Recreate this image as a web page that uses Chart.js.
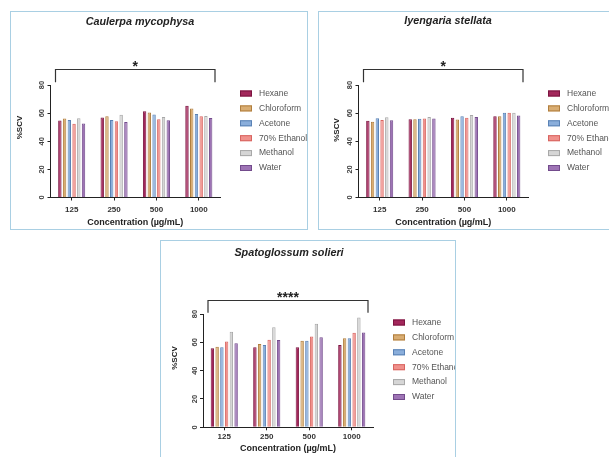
<!DOCTYPE html>
<html>
<head>
<meta charset="utf-8">
<script src="https://cdn.jsdelivr.net/npm/chart.js@4.4.1/dist/chart.umd.min.js"></script>
<style>
  html, body { margin: 0; padding: 0; background: #fff; }
  body { width: 609px; height: 457px; position: relative; overflow: hidden; }
  canvas, .frame { position: absolute; }
  .frame { border: 1.5px solid #a9cfe3; box-sizing: border-box; pointer-events: none; }
</style>
</head>
<body>
<canvas id="c1" width="298" height="219" style="left:10px;top:11px"></canvas>
<div class="frame" style="left:10px;top:11px;width:298px;height:219px"></div>
<canvas id="c2" width="298" height="219" style="left:318px;top:11px"></canvas>
<div class="frame" style="left:318px;top:11px;width:298px;height:219px"></div>
<canvas id="c3" width="296" height="222" style="left:160px;top:240px"></canvas>
<div class="frame" style="left:160px;top:240px;width:296px;height:222px"></div>
<script>
// data (%SCV)
const concentrations = ['125', '250', '500', '1000'];
const solvents = ['Hexane', 'Chloroform', 'Acetone', '70% Ethanol', 'Methanol', 'Water'];
const yTicks = [0, 20, 40, 60, 80];

// rows follow the solvents order, columns the concentrations
const caulerpaValues = [
    [54.8, 56.9, 61.4, 65.2],
    [56.1, 57.8, 60.5, 63.3],
    [55.2, 55.2, 59.0, 59.3],
    [52.5, 54.2, 55.7, 57.8],
    [56.4, 58.8, 57.2, 58.0],
    [52.6, 53.7, 55.0, 56.6]
];
const iyengariaValues = [
    [54.5, 55.7, 56.8, 57.8],
    [53.8, 55.7, 55.5, 57.8],
    [56.4, 56.0, 57.8, 60.2],
    [55.2, 56.1, 56.7, 60.3],
    [57.1, 57.3, 58.6, 60.3],
    [55.0, 56.1, 57.3, 58.4]
];
const spatoglossumValues = [
    [55.8, 56.5, 56.5, 58.1],
    [56.9, 58.8, 61.2, 62.8],
    [56.5, 58.1, 61.2, 62.8],
    [60.5, 61.9, 64.2, 66.8],
    [67.5, 70.6, 73.2, 77.6],
    [59.3, 61.6, 63.5, 67.0]
];

const fillColors = ['#a3275b', '#d9ad72', '#8aaedb', '#f0918c', '#d6d6d6', '#9e74b5'];
const edgeColors = ['#7b1440', '#b07e3e', '#5a82b5', '#d86460', '#a8a8a8', '#734b8c'];

const FONT = '"Liberation Sans", Arial, sans-serif';

// title, y title, significance bracket and legend
const panelDecor = {
    id: 'panelDecor',
    afterDraw(chart, args, opts) {
        const {ctx, chartArea} = chart;
        const x = chart.scales.x, y = chart.scales.y;
        ctx.save();
        ctx.fillStyle = '#222';
        ctx.textAlign = 'center';
        ctx.textBaseline = 'middle';
        ctx.font = 'italic bold 10.8px ' + FONT;
        ctx.fillText(opts.title, opts.titleX, opts.titleY);

        ctx.save();
        ctx.translate(opts.yTitleX, opts.yTitleY);
        ctx.rotate(-Math.PI / 2);
        ctx.font = 'bold 8px ' + FONT;
        ctx.fillText('%SCV', 0, 0);
        ctx.restore();

        const by = Math.round(y.getPixelForValue(opts.bracket[0])) + 0.5;
        const ey = y.getPixelForValue(opts.bracket[1]);
        const bl = x.left + 5, br = x.right - 5;
        ctx.strokeStyle = '#333';
        ctx.lineWidth = 1.2;
        ctx.beginPath();
        ctx.moveTo(bl, ey);
        ctx.lineTo(bl, by);
        ctx.lineTo(br, by);
        ctx.lineTo(br, ey);
        ctx.stroke();
        ctx.font = 'bold 14px ' + FONT;
        ctx.textBaseline = 'alphabetic';
        ctx.fillText(opts.stars, (bl + br) / 2, by + 1);

        ctx.textAlign = 'left';
        ctx.textBaseline = 'middle';
        ctx.font = '8.5px ' + FONT;
        chart.data.datasets.forEach((ds, i) => {
            const lx = chartArea.right + 20;
            const ly = chartArea.top + 8.5 + i * 14.9;
            ctx.fillStyle = ds.backgroundColor;
            ctx.fillRect(lx, ly - 3, 12, 6);
            ctx.strokeStyle = ds.borderColor;
            ctx.lineWidth = 1;
            ctx.strokeRect(lx + 0.5, ly - 2.5, 11, 5);
            ctx.fillStyle = '#555';
            ctx.fillText(ds.label, lx + 19, ly);
        });
        ctx.restore();
    }
};

function makePanel(canvasId, values, decor, g) {
    const ctx = document.getElementById(canvasId).getContext('2d');
    return new Chart(ctx, {
        type: 'bar',
        data: {
            labels: concentrations,
            datasets: solvents.map((name, i) => ({
                label: name,
                data: values[i],
                backgroundColor: fillColors[i],
                borderColor: edgeColors[i],
                borderWidth: 1,
                borderSkipped: 'bottom',
                categoryPercentage: 0.67,
                barPercentage: 0.72
            }))
        },
        options: {
            responsive: false,
            animation: false,
            devicePixelRatio: 1,
            layout: {
                padding: {left: 0, right: g.padRight, top: g.padTop, bottom: g.padBottom}
            },
            plugins: {
                legend: {display: false},
                title: {display: false},
                tooltip: {enabled: false},
                panelDecor: decor
            },
            scales: {
                x: {
                    offset: true,
                    grid: {drawOnChartArea: false, offset: false, tickLength: 3, tickColor: '#222'},
                    border: {color: '#222', width: 1},
                    ticks: {
                        color: '#333',
                        padding: g.xTickPad,
                        maxRotation: 0,
                        font: {family: FONT, size: 8, weight: 'bold'}
                    },
                    title: {
                        display: true,
                        text: 'Concentration (µg/mL)',
                        color: '#222',
                        padding: 0,
                        font: {family: FONT, size: 9, weight: 'bold'}
                    },
                    afterFit: (s) => { s.height = g.xAxisH; }
                },
                y: {
                    min: yTicks[0],
                    max: yTicks[yTicks.length - 1],
                    grid: {drawOnChartArea: false, tickLength: 3, tickColor: '#222'},
                    border: {color: '#222', width: 1},
                    ticks: {
                        stepSize: yTicks[1] - yTicks[0],
                        minRotation: 90,
                        maxRotation: 90,
                        crossAlign: 'center',
                        padding: 1,
                        color: '#444',
                        font: {family: FONT, size: 7.5, weight: 'bold'}
                    },
                    afterFit: (s) => { s.width = g.yAxisW; }
                }
            }
        },
        plugins: [panelDecor]
    });
}

makePanel('c1', caulerpaValues,
    {title: 'Caulerpa mycophysa', stars: '*', titleX: 130, titleY: 11, yTitleX: 10, yTitleY: 116.5, bracket: [91.2, 82]},
    {yAxisW: 40.5, padRight: 88, padTop: 74, padBottom: 2.5, xAxisH: 30, xTickPad: 4});

makePanel('c2', iyengariaValues,
    {title: 'Iyengaria stellata', stars: '*', titleX: 130, titleY: 10, yTitleX: 18.7, yTitleY: 119, bracket: [91.2, 82]},
    {yAxisW: 40.5, padRight: 88, padTop: 74, padBottom: 2.5, xAxisH: 30, xTickPad: 4});

makePanel('c3', spatoglossumValues,
    {title: 'Spatoglossum solieri', stars: '****', titleX: 129, titleY: 13, yTitleX: 15, yTitleY: 118, bracket: [90, 80.8]},
    {yAxisW: 43, padRight: 83, padTop: 74, padBottom: 7.6, xAxisH: 27.1, xTickPad: 2});
</script>
</body>
</html>
